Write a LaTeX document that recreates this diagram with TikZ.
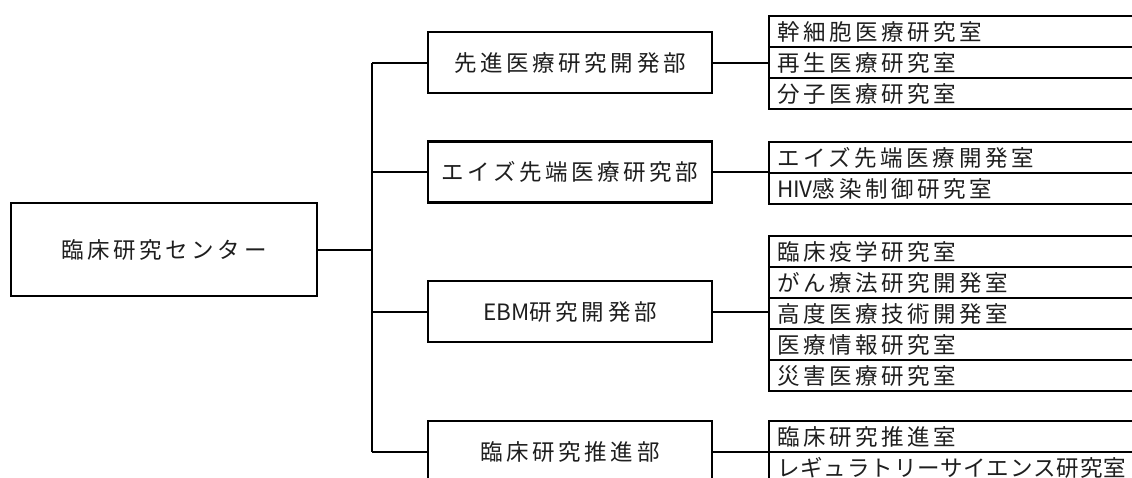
\documentclass[tikz,border=0pt]{standalone}
\usepackage{fontspec}
\newfontfamily\jp[LetterSpace=16]{Noto Sans CJK JP}
\newfontfamily\jpt[LetterSpace=4]{Noto Sans CJK JP}
\newfontfamily\jpn{Noto Sans CJK JP}
\definecolor{ink}{HTML}{1E1E1E}
\begin{document}
\begin{tikzpicture}[x=1pt,y=-1pt,
  box/.style={draw=black, line width=2.5pt, fill=white, font=\jp\fontsize{22.5}{25}\selectfont, text=ink, inner sep=0pt},
  dept/.style={box, minimum width=284pt, minimum height=61pt},
  row/.style={draw=black, line width=2pt, minimum height=31pt, text width=362pt, inner xsep=8pt, inner ysep=0pt, anchor=north west, align=left, font=\jp\fontsize{22.5}{25}\selectfont, text=ink},
  conn/.style={draw=black, line width=2pt}]
\useasboundingbox (0,0) rectangle (1132,477);
\clip (0,0) rectangle (1132,477);
% center
\node[box, minimum width=306pt, minimum height=93pt] (c) at (164,249.5) {臨床研究センター};
% departments
\node[dept] (d1) at (570,62.5) {先進医療研究開発部};
\node[dept] (d2) at (570,172) {エイズ先端医療研究部};
\node[dept] (d3) at (570,311.5) {{\jpn EBM}研究開発部};
\node[dept] (d4) at (570,451.5) {臨床研究推進部};
% rooms
\node[row] (r11) at (768,15) {幹細胞医療研究室};
\node[row] (r12) at (768,46) {再生医療研究室};
\node[row] (r13) at (768,77) {分子医療研究室};
\node[row] (r21) at (768,141) {エイズ先端医療開発室};
\node[row] (r22) at (768,172) {{\jpn HIV}感染制御研究室};
\node[row] (r31) at (768,235) {臨床疫学研究室};
\node[row] (r32) at (768,266) {がん療法研究開発室};
\node[row] (r33) at (768,297) {高度医療技術開発室};
\node[row] (r34) at (768,328) {医療情報研究室};
\node[row] (r35) at (768,359) {災害医療研究室};
\node[row] (r41) at (768,420) {臨床研究推進室};
\node[row] (r42) at (768,451) {\jpt レギュラトリーサイエンス研究室};
% connectors
\coordinate (tk) at (372,0);
\draw[conn] (c.east) -- (c.east -| tk);
\draw[conn] (d1.west -| tk) -- (d4.west -| tk);
\draw[conn] (d1.west -| tk) -- (d1.west);
\draw[conn] (d2.west -| tk) -- (d2.west);
\draw[conn] (d3.west -| tk) -- (d3.west);
\draw[conn] (d4.west -| tk) -- (d4.west);
\draw[conn] (d1.east) -- (d1.east -| r11.west);
\draw[conn] (d2.east) -- (d2.east -| r21.west);
\draw[conn] (d3.east) -- (d3.east -| r31.west);
\draw[conn] (d4.east) -- (d4.east -| r41.west);
\end{tikzpicture}
\end{document}
